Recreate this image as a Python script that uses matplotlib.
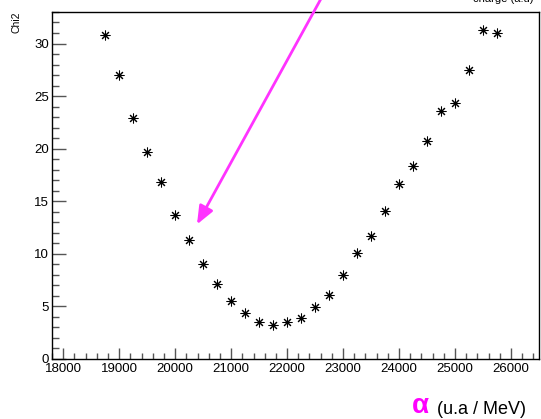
import matplotlib
matplotlib.use("Agg")
import matplotlib.pyplot as plt
from matplotlib.ticker import MultipleLocator

plt.rcParams['font.family'] = ['Liberation Sans', 'DejaVu Sans']

# scan values: alpha (u.a / MeV) vs chi2
alpha = [18750, 19000, 19250, 19500, 19750, 20000, 20250, 20500, 20750,
         21000, 21250, 21500, 21750, 22000, 22250, 22500, 22750, 23000,
         23250, 23500, 23750, 24000, 24250, 24500, 24750, 25000, 25250,
         25500, 25750]
chi2 = [30.8, 27.0, 22.9, 19.7, 16.8, 13.7, 11.3, 9.0, 7.1,
        5.5, 4.4, 3.5, 3.2, 3.5, 3.9, 4.9, 6.1, 8.0,
        10.1, 11.7, 14.1, 16.6, 18.4, 20.7, 23.6, 24.3, 27.5,
        31.3, 31.0]

# arrow pointing at the expected minimum
arrow_tip = (20390, 12.8)
arrow_tail = (22630, 34.5)

fig = plt.figure(figsize=(5.41, 4.19), dpi=100)
ax = fig.add_axes([0.0961, 0.1432, 0.9002, 0.8282])

ax.plot(alpha, chi2, linestyle='none', marker=(8, 2, 0), markersize=7,
        markeredgewidth=0.75, color='black')

ax.set_xlim(17800, 26500)
ax.set_ylim(0, 33)

ax.xaxis.set_major_locator(MultipleLocator(1000))
ax.xaxis.set_minor_locator(MultipleLocator(200))
ax.yaxis.set_major_locator(MultipleLocator(5))
ax.yaxis.set_minor_locator(MultipleLocator(1))

ax.tick_params(axis='both', which='both', direction='in', colors='#555555',
               labelcolor='black', labelsize=9.5, width=1)
ax.tick_params(axis='y', which='major', length=10, pad=2)
ax.tick_params(axis='y', which='minor', length=5)
ax.tick_params(axis='x', which='major', length=8, pad=3)
ax.tick_params(axis='x', which='minor', length=4.5)

for s in ax.spines.values():
    s.set_linewidth(1)
    s.set_color('black')

ax.annotate('', xy=arrow_tip, xytext=arrow_tail, annotation_clip=False,
            arrowprops=dict(arrowstyle='-|>,head_length=1.1,head_width=0.45',
                            color='#ff33ff', lw=2, shrinkA=0, shrinkB=0))

ax.set_ylabel('Chi2', fontsize=7.5)
ax.yaxis.set_label_coords(-0.062, 0.97)

fig.text(0.762, 0.031, 'α', color='#ff00ff', fontsize=20, fontweight='bold',
         ha='left', va='center')
fig.text(0.808, 0.023, '(u.a / MeV)', color='black', fontsize=13,
         ha='left', va='center')

# title text cut off at the top edge
fig.text(0.875, 1.003, 'charge (a.u)', fontsize=8, ha='left', va='center')

fig.savefig('out.png', dpi=100)
